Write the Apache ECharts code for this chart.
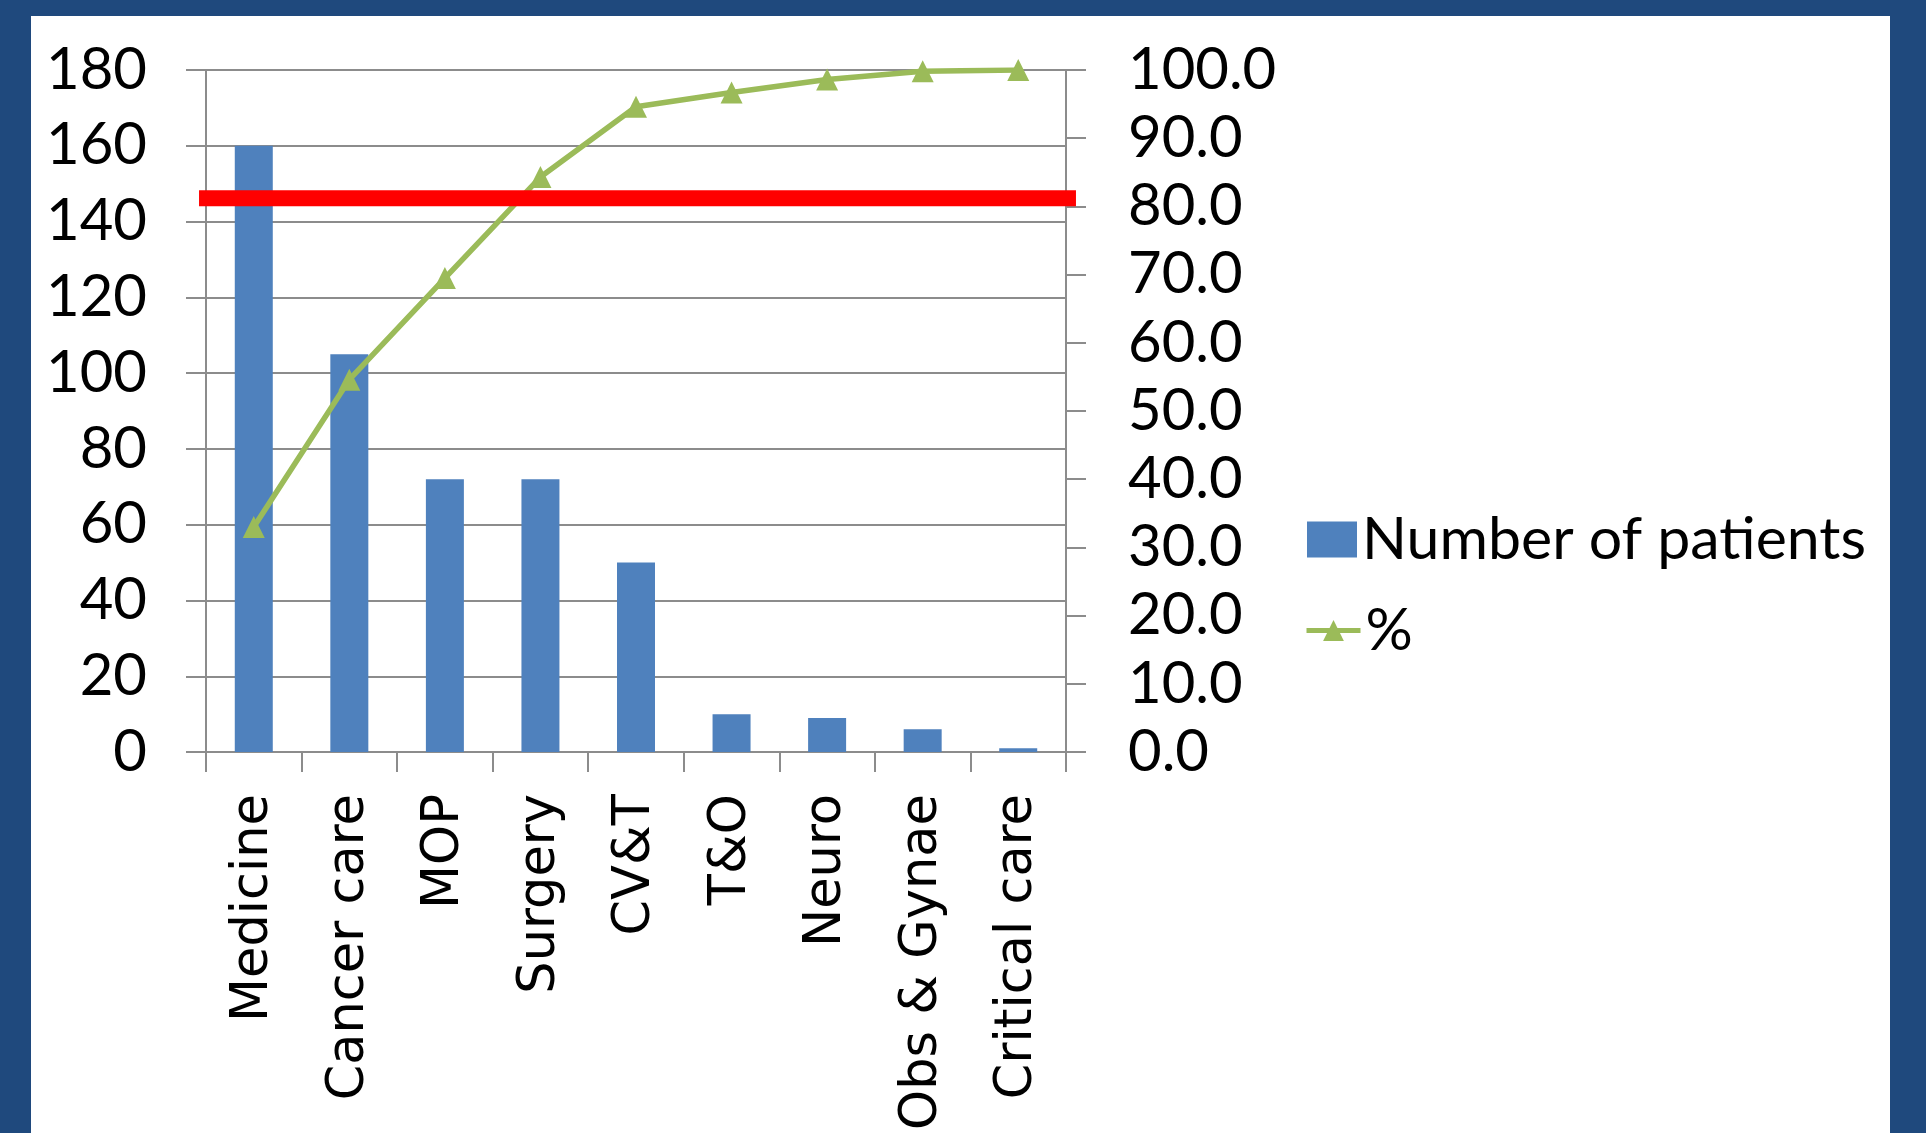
<!DOCTYPE html>
<html>
<head>
<meta charset="utf-8">
<script src="https://cdn.jsdelivr.net/npm/echarts@6/dist/echarts.min.js"></script>
<style>
  html, body { margin: 0; padding: 0; width: 1926px; height: 1133px; overflow: hidden; background: #1F497D; }
  #chart { position: absolute; left: 31px; top: 16px; width: 1859px; height: 1117px; background: #ffffff; }
</style>
</head>
<body>
<div id="chart"></div>
<script>
// Departments, ordered by patient count
const categories = ['Medicine', 'Cancer care', 'MOP', 'Surgery', 'CV&T', 'T&O', 'Neuro', 'Obs & Gynae', 'Critical care'];
// Number of patients per department (left axis)
const patients = [160, 105, 72, 72, 50, 10, 9, 6, 1];
// Cumulative share of patients, % (right axis)
const cumulativePct = [33.0, 54.6, 69.5, 84.3, 94.6, 96.7, 98.6, 99.8, 100.0];
// Axis ranges
const countAxis = { min: 0, max: 180, step: 20 };
const pctAxis = { min: 0, max: 100, step: 10 };
// Cut-off level drawn across the chart, in % units
const cutoffPct = 81.2;

const axisGray = '#8c8c8c';
const numFont = 'Lato, "Open Sans", sans-serif';

const chart = echarts.init(document.getElementById('chart'), null, { renderer: 'canvas' });

chart.setOption({
  animation: false,
  backgroundColor: '#ffffff',
  grid: { left: 175, top: 54, width: 860, height: 684, containLabel: false },
  legend: [
    {
      data: [{ name: 'Number of patients', icon: 'rect' }],
      left: 1271, top: 489,
      itemWidth: 50, itemHeight: 36, itemGap: 0,
      textStyle: { fontFamily: numFont, fontSize: 59, color: '#000', padding: [0, 0, 0, 0] }
    },
    {
      data: ['%'],
      left: 1268, top: 580,
      itemWidth: 54, itemHeight: 26, itemGap: 0,
      lineStyle: { width: 5 },
      textStyle: { fontFamily: numFont, fontSize: 59, color: '#000', padding: [0, 0, 0, 0] }
    }
  ],
  xAxis: {
    type: 'category',
    data: categories,
    boundaryGap: true,
    axisLine: { show: true, lineStyle: { color: axisGray, width: 2 } },
    axisTick: { show: true, interval: 0, length: 20, lineStyle: { color: axisGray, width: 2 } },
    axisLabel: {
      interval: 0, rotate: 90, margin: 42,
      fontFamily: '"DejaVu Sans", Verdana, sans-serif', fontSize: 51, color: '#000'
    }
  },
  yAxis: [
    {
      type: 'value',
      min: countAxis.min, max: countAxis.max, interval: countAxis.step,
      position: 'left',
      axisLine: { show: true, lineStyle: { color: axisGray, width: 2 } },
      axisTick: { show: true, length: 20, lineStyle: { color: axisGray, width: 2 } },
      splitLine: { show: true, lineStyle: { color: axisGray, width: 2 } },
      axisLabel: { margin: 59, fontFamily: numFont, fontSize: 58, color: '#000' }
    },
    {
      type: 'value',
      min: pctAxis.min, max: pctAxis.max, interval: pctAxis.step,
      position: 'right',
      axisLine: { show: true, lineStyle: { color: axisGray, width: 2 } },
      axisTick: { show: true, length: 20, lineStyle: { color: axisGray, width: 2 } },
      splitLine: { show: false },
      axisLabel: {
        margin: 62, fontFamily: numFont, fontSize: 58, color: '#000',
        formatter: v => v.toFixed(1)
      }
    }
  ],
  series: [
    {
      name: 'Number of patients',
      type: 'bar',
      data: patients,
      yAxisIndex: 0,
      barWidth: 38,
      itemStyle: { color: '#4F81BD' },
      z: 2
    },
    {
      name: '%',
      type: 'line',
      data: cumulativePct,
      yAxisIndex: 1,
      symbol: 'triangle',
      symbolSize: 22,
      showSymbol: true,
      lineStyle: { color: '#9BBB59', width: 5.5 },
      itemStyle: { color: '#9BBB59' },
      z: 3
    }
  ]
});

// Red cut-off bar across the plot, placed on the % scale
const cutY = chart.convertToPixel({ yAxisIndex: 1 }, cutoffPct);
const x0 = chart.convertToPixel({ xAxisIndex: 0 }, categories[0]) - 47.75 - 7;
const x1 = chart.convertToPixel({ xAxisIndex: 0 }, categories[categories.length - 1]) + 47.75 + 10;
chart.setOption({
  graphic: [{
    type: 'rect',
    z: 100,
    shape: { x: x0, y: cutY - 8, width: x1 - x0, height: 16 },
    style: { fill: '#FF0000' }
  }]
});
</script>
</body>
</html>
